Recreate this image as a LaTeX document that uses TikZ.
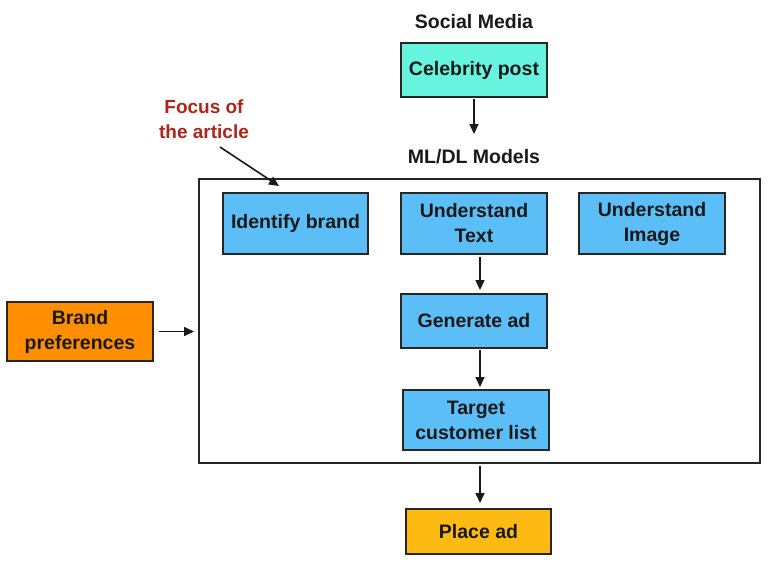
\documentclass[tikz,border=0pt]{standalone}
\usepackage{fontspec}
\setmainfont{Liberation Sans}
\usetikzlibrary{arrows.meta}
\definecolor{cyanfill}{HTML}{66F4DE}
\definecolor{bluefill}{HTML}{5CBEF7}
\definecolor{orangefill}{HTML}{FF8F00}
\definecolor{goldfill}{HTML}{FDBA12}
\definecolor{redtext}{HTML}{B0251B}
\tikzset{
  boxbase/.style={draw=black!85, line width=1.4pt, inner sep=0pt, align=center,
    font=\fontsize{19.5}{25}\selectfont\bfseries, text=black!90},
  bluebox/.style={boxbase, fill=bluefill},
  arr/.style={-{Triangle[length=10pt,width=9pt]}, line width=1.6pt, black!90},
  headtext/.style={font=\fontsize{19.5}{25}\selectfont\bfseries, text=black!90},
}
\begin{document}
\begin{tikzpicture}[x=1pt,y=-1pt]
\useasboundingbox (0,0) rectangle (782,571);
\fill[white] (0,0) rectangle (782,571);

\node[headtext] (sm) at (474,22) {Social Media};
\node[boxbase, fill=cyanfill, minimum width=146pt, minimum height=54pt] (celeb) at (474,70) {Celebrity post};

\node[headtext] (ml) at (474,157) {ML/DL Models};
\node[draw=black!85, line width=1.4pt, minimum width=561pt, minimum height=284pt, inner sep=0pt] (big) at (479.5,321) {};

\node[bluebox, minimum width=145pt, minimum height=61pt] (brand) at (295.5,223.5) {Identify brand};
\node[bluebox, minimum width=146pt, minimum height=61pt] (text) at (474,223.5) {Understand\\Text};
\node[bluebox, minimum width=146pt, minimum height=61pt] (image) at (652,223.5) {Understand\\Image};
\node[bluebox, minimum width=146pt, minimum height=54pt] (gen) at (474,321) {Generate ad};
\node[bluebox, minimum width=146pt, minimum height=60pt] (target) at (476,420) {Target\\customer list};

\node[boxbase, fill=orangefill, minimum width=146pt, minimum height=59pt] (pref) at (80,331.5) {Brand\\preferences};
\node[boxbase, fill=goldfill, minimum width=145pt, minimum height=45pt] (place) at (478.5,531.5) {Place ad};

\node[font=\fontsize{19}{25}\selectfont\bfseries, text=redtext, align=center] (focus) at (204,119) {Focus of\\the article};
\coordinate (focusend) at (279,186);
\coordinate (focusstart) at (220,147);

\draw[arr] (474,99) -- (474,134);
\draw[arr] (480,257) -- (480,290);
\draw[arr] (480,350) -- (480,387);
\draw[arr] (480,466) -- (480,503);
\draw[arr] (pref.east) ++(5,0) -- (194,331.5);
\draw[arr] (focusstart) -- (focusend);
\end{tikzpicture}
\end{document}
